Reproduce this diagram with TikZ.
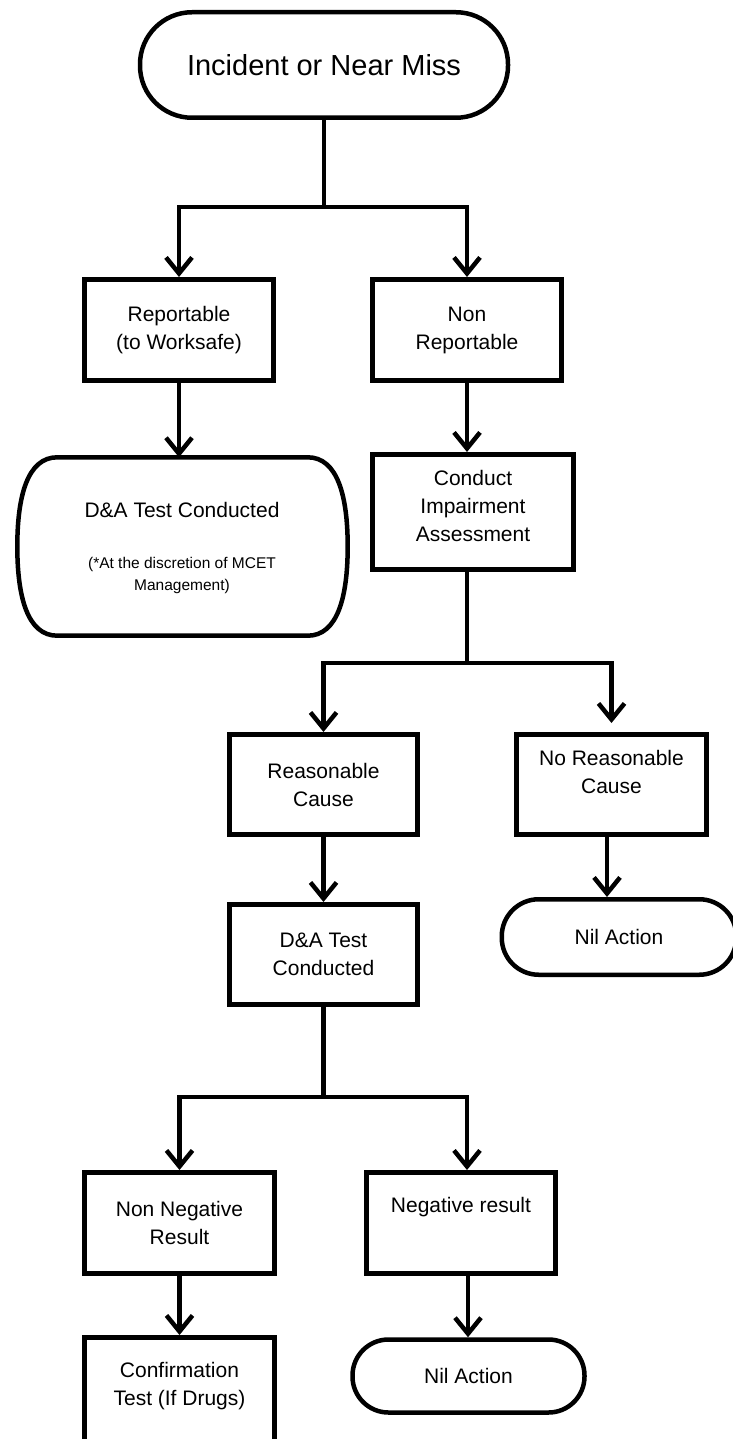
\documentclass[tikz,border=0pt]{standalone}
\usepackage{fontspec}
\setmainfont{Liberation Sans}
\usetikzlibrary{arrows.meta}
\begin{document}
\begin{tikzpicture}[x=1pt,y=-1pt,
  boxfont/.style={font=\fontsize{21}{28}\selectfont},
  box/.style={draw, line width=5pt, inner sep=0pt, align=center, boxfont},
  term/.style={box, line width=4.5pt},
  conn/.style={line width=4.5pt},
  arr/.style={conn, -{Straight Barb[length=16pt,width=26pt]}},
]
\useasboundingbox (0,0) rectangle (732,1439);
\fill[white] (0,0) rectangle (732,1439);

% nodes
\node[term, rounded corners=52pt, minimum width=368pt, minimum height=105.5pt,
      font=\fontsize{29}{34}\selectfont] (top) at (324,65) {Incident or Near Miss};
\node[box, minimum width=189pt, minimum height=101pt] (rep) at (179,330) {Reportable\\(to Worksafe)};
\node[box, minimum width=189pt, minimum height=101pt] (nonrep) at (467,330) {Non\\Reportable};

\node[minimum width=330pt, minimum height=178pt, inner sep=0pt] (dat) at (182.5,546.5) {};
\draw[line width=4.5pt]
  ([xshift=40pt]dat.north west) -- ([xshift=-40pt]dat.north east)
  .. controls ([xshift=-10pt]dat.north east) and ([yshift=50pt]dat.east) .. (dat.east)
  .. controls ([yshift=-50pt]dat.east) and ([xshift=-10pt]dat.south east) .. ([xshift=-40pt]dat.south east)
  -- ([xshift=40pt]dat.south west)
  .. controls ([xshift=10pt]dat.south west) and ([yshift=-50pt]dat.west) .. (dat.west)
  .. controls ([yshift=50pt]dat.west) and ([xshift=10pt]dat.north west) .. ([xshift=40pt]dat.north west) -- cycle;
\node[boxfont, inner sep=0pt] (datT) at (182,510) {D\&A Test Conducted};
\node[font=\fontsize{15.5}{22}\selectfont, align=center, inner sep=0pt] (datN) at (182,575.5)
  {(*At the discretion of MCET\\Management)};

\node[box, minimum width=201pt, minimum height=115pt,
      label={[name=ciaT, boxfont, align=center, inner sep=0pt, yshift=6.5pt]center:{Conduct\\Impairment\\Assessment}}]
      (cia) at (473,512) {};
\node[box, minimum width=188pt, minimum height=100pt] (rc) at (323.5,784.5) {Reasonable\\Cause};
\node[box, minimum width=190pt, minimum height=100pt,
      label={[name=nrcT, boxfont, align=center, inner sep=0pt, yshift=12.5pt]center:{No Reasonable\\Cause}}]
      (nrc) at (611.5,784.5) {};
\node[box, minimum width=188pt, minimum height=100pt] (dab) at (323.5,954.5) {D\&A Test\\Conducted};
\node[term, rounded corners=37pt, minimum width=234.5pt, minimum height=75.5pt] (nil1) at (619,937) {Nil Action};

\node[box, minimum width=190pt, minimum height=101pt] (nnr) at (179.5,1223) {Non Negative\\Result};
\node[box, minimum width=189pt, minimum height=101pt,
      label={[name=negT, boxfont, align=center, inner sep=0pt, yshift=16pt]center:{Negative result}}]
      (neg) at (461,1223) {};
\node[box, minimum width=190pt, minimum height=120pt,
      label={[name=confT, boxfont, align=center, inner sep=0pt, yshift=11pt]center:{Confirmation\\Test (If Drugs)}}]
      (conf) at (179.5,1397.5) {};
\node[term, rounded corners=36pt, minimum width=232pt, minimum height=73pt] (nil2) at (468.5,1376) {Nil Action};

% connectors
\coordinate (j1) at (324,207);
\draw[conn] (top.south) -- (j1);
\draw[arr] (j1) -| (rep.north);
\draw[arr] (j1) -| (nonrep.north);
\draw[arr] (rep.south) -- (rep.south |- dat.north);
\draw[arr] (nonrep.south) -- (nonrep.south |- cia.north);

\coordinate (j2) at (467,663);
\draw[conn] (cia.south -| j2) -- (j2);
\draw[arr] (j2) -| (rc.north);
\draw[arr, shorten >=9pt] (j2) -| (nrc.north);
\draw[arr] (rc.south) -- (dab.north);
\draw[arr] ([xshift=-4.5pt]nrc.south) -- ([xshift=-4.5pt]nrc.south |- nil1.north);

\coordinate (j3) at (323.5,1097);
\draw[conn] (dab.south) -- (j3);
\draw[arr] (j3) -| (nnr.north);
\draw[arr] (j3) -| ([xshift=6pt]neg.north);
\draw[arr] (nnr.south) -- (conf.north);
\draw[arr] ([xshift=7pt]neg.south) -- ([xshift=7pt]neg.south |- nil2.north);
\end{tikzpicture}
\end{document}
